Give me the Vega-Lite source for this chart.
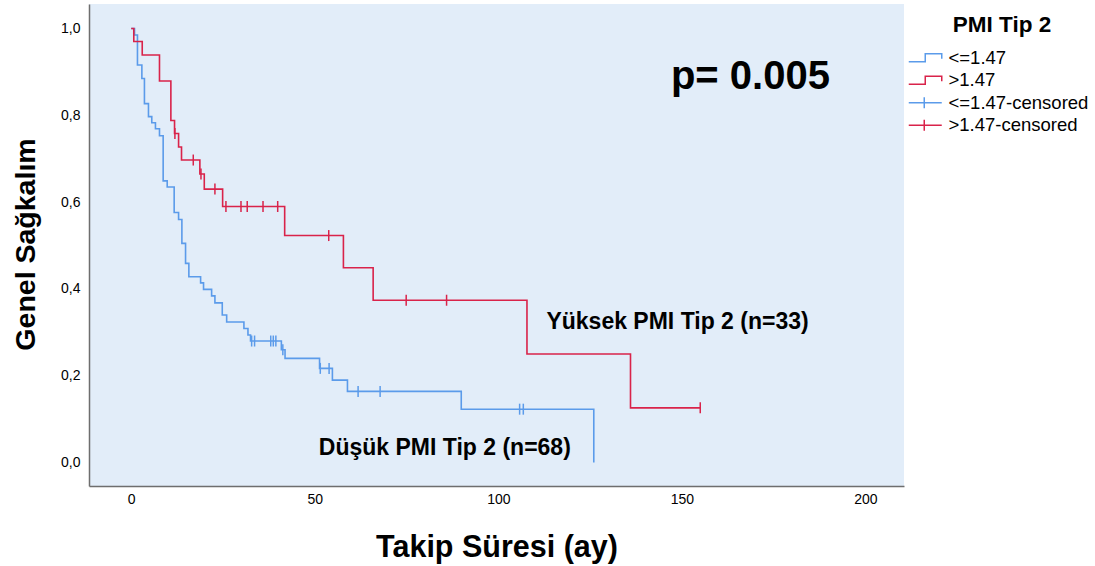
{
  "$schema": "https://vega.github.io/schema/vega-lite/v6.json",
  "width": 815,
  "height": 482,
  "autosize": {"type": "none"},
  "padding": {"left": 89, "top": 4, "right": 191, "bottom": 80},
  "background": "white",
  "config": {
    "view": {"stroke": null, "fill": "#e2edf9"},
    "font": "Liberation Sans"
  },
  "datasets": {
    "km": [
      {"g": "<=1.47", "t": 0, "s": 1.0},
      {"g": "<=1.47", "t": 0.9, "s": 0.985},
      {"g": "<=1.47", "t": 1.7, "s": 0.916},
      {"g": "<=1.47", "t": 2.9, "s": 0.885},
      {"g": "<=1.47", "t": 3.6, "s": 0.827},
      {"g": "<=1.47", "t": 4.7, "s": 0.797},
      {"g": "<=1.47", "t": 5.6, "s": 0.783},
      {"g": "<=1.47", "t": 6.6, "s": 0.769},
      {"g": "<=1.47", "t": 7.7, "s": 0.753},
      {"g": "<=1.47", "t": 8.7, "s": 0.649},
      {"g": "<=1.47", "t": 9.8, "s": 0.635},
      {"g": "<=1.47", "t": 11.7, "s": 0.576},
      {"g": "<=1.47", "t": 12.9, "s": 0.56},
      {"g": "<=1.47", "t": 13.8, "s": 0.505},
      {"g": "<=1.47", "t": 14.8, "s": 0.459},
      {"g": "<=1.47", "t": 15.7, "s": 0.428},
      {"g": "<=1.47", "t": 18.9, "s": 0.414},
      {"g": "<=1.47", "t": 19.7, "s": 0.399},
      {"g": "<=1.47", "t": 21.9, "s": 0.384},
      {"g": "<=1.47", "t": 22.8, "s": 0.368},
      {"g": "<=1.47", "t": 24.8, "s": 0.34},
      {"g": "<=1.47", "t": 26.0, "s": 0.324},
      {"g": "<=1.47", "t": 30.7, "s": 0.309},
      {"g": "<=1.47", "t": 31.8, "s": 0.294},
      {"g": "<=1.47", "t": 32.5, "s": 0.28},
      {"g": "<=1.47", "t": 40.9, "s": 0.26},
      {"g": "<=1.47", "t": 41.9, "s": 0.24},
      {"g": "<=1.47", "t": 51.3, "s": 0.217},
      {"g": "<=1.47", "t": 54.8, "s": 0.19},
      {"g": "<=1.47", "t": 58.9, "s": 0.164},
      {"g": "<=1.47", "t": 89.9, "s": 0.123},
      {"g": "<=1.47", "t": 126.0, "s": 0.0},
      {"g": ">1.47", "t": 0, "s": 1.0},
      {"g": ">1.47", "t": 0.7, "s": 0.97},
      {"g": ">1.47", "t": 3.0, "s": 0.939},
      {"g": ">1.47", "t": 7.7, "s": 0.879},
      {"g": ">1.47", "t": 10.8, "s": 0.788},
      {"g": ">1.47", "t": 11.8, "s": 0.758},
      {"g": ">1.47", "t": 12.9, "s": 0.727},
      {"g": ">1.47", "t": 13.7, "s": 0.697},
      {"g": ">1.47", "t": 18.7, "s": 0.665},
      {"g": ">1.47", "t": 19.9, "s": 0.63},
      {"g": ">1.47", "t": 24.9, "s": 0.59},
      {"g": ">1.47", "t": 41.8, "s": 0.523},
      {"g": ">1.47", "t": 57.8, "s": 0.449},
      {"g": ">1.47", "t": 65.9, "s": 0.374},
      {"g": ">1.47", "t": 107.8, "s": 0.25},
      {"g": ">1.47", "t": 136.0, "s": 0.126},
      {"g": ">1.47", "t": 155.0, "s": 0.126}
    ],
    "censor": [
      {"g": "<=1.47-censored", "t": 32.8, "s": 0.28},
      {"g": "<=1.47-censored", "t": 33.6, "s": 0.28},
      {"g": "<=1.47-censored", "t": 38.0, "s": 0.28},
      {"g": "<=1.47-censored", "t": 38.7, "s": 0.28},
      {"g": "<=1.47-censored", "t": 39.4, "s": 0.28},
      {"g": "<=1.47-censored", "t": 41.3, "s": 0.26},
      {"g": "<=1.47-censored", "t": 51.5, "s": 0.217},
      {"g": "<=1.47-censored", "t": 53.9, "s": 0.217},
      {"g": "<=1.47-censored", "t": 61.8, "s": 0.164},
      {"g": "<=1.47-censored", "t": 67.8, "s": 0.164},
      {"g": "<=1.47-censored", "t": 105.8, "s": 0.123},
      {"g": "<=1.47-censored", "t": 106.8, "s": 0.123},
      {"g": ">1.47-censored", "t": 11.9, "s": 0.758},
      {"g": ">1.47-censored", "t": 16.9, "s": 0.697},
      {"g": ">1.47-censored", "t": 19.0, "s": 0.665},
      {"g": ">1.47-censored", "t": 22.8, "s": 0.63},
      {"g": ">1.47-censored", "t": 25.8, "s": 0.59},
      {"g": ">1.47-censored", "t": 29.9, "s": 0.59},
      {"g": ">1.47-censored", "t": 31.6, "s": 0.59},
      {"g": ">1.47-censored", "t": 35.9, "s": 0.59},
      {"g": ">1.47-censored", "t": 39.9, "s": 0.59},
      {"g": ">1.47-censored", "t": 53.8, "s": 0.523},
      {"g": ">1.47-censored", "t": 74.9, "s": 0.374},
      {"g": ">1.47-censored", "t": 85.9, "s": 0.374},
      {"g": ">1.47-censored", "t": 155.0, "s": 0.126}
    ],
    "pval": [
      {"t": 147.0, "s": 0.888, "label": "p= 0.005"}
    ],
    "groups": [
      {"t": 113.1, "s": 0.324, "label": "Yüksek PMI Tip 2 (n=33)"},
      {"t": 51.1, "s": 0.033, "label": "Düşük PMI Tip 2 (n=68)"}
    ]
  },
  "encoding": {
    "x": {
      "field": "t",
      "type": "quantitative",
      "scale": {"domain": [-11.5, 210.5], "nice": false, "zero": false},
      "axis": {
        "values": [0, 50, 100, 150, 200],
        "ticks": false,
        "tickSize": 0,
        "grid": false,
        "domainColor": "#6e6e6e",
        "domainWidth": 1.5,
        "labelFontSize": 14,
        "labelColor": "#000000",
        "labelPadding": 6,
        "labelFlush": false,
        "title": "Takip Süresi (ay)",
        "titleFontSize": 30.5,
        "titleFontWeight": "bold",
        "titleColor": "#000000",
        "titleBaseline": "alphabetic",
        "titleY": 70
      }
    },
    "y": {
      "field": "s",
      "type": "quantitative",
      "scale": {"domain": [-0.054, 1.0565], "nice": false, "zero": false},
      "axis": {
        "values": [0, 0.2, 0.4, 0.6, 0.8, 1.0],
        "labelExpr": "replace(format(datum.value, '.1f'), '.', ',')",
        "ticks": false,
        "tickSize": 0,
        "grid": false,
        "domainColor": "#6e6e6e",
        "domainWidth": 1.5,
        "labelFontSize": 14,
        "labelColor": "#000000",
        "labelPadding": 9,
        "labelFlush": false,
        "title": "Genel Sağkalım",
        "titleFontSize": 28.5,
        "titleFontWeight": "bold",
        "titleColor": "#000000",
        "titleBaseline": "alphabetic",
        "titleAlign": "center",
        "titleX": -55,
        "titleY": 240
      }
    }
  },
  "layer": [
    {
      "data": {"name": "km"},
      "mark": {"type": "line", "interpolate": "step-after", "strokeWidth": 1.6},
      "encoding": {
        "color": {
          "field": "g",
          "type": "nominal",
          "scale": {
            "domain": ["<=1.47", ">1.47", "<=1.47-censored", ">1.47-censored"],
            "range": ["#5b9bea", "#d9234a", "#5b9bea", "#d9234a"]
          },
          "legend": {
            "orient": "none",
            "legendX": 827,
            "legendY": 10,
            "padding": 0,
            "title": "PMI Tip 2",
            "titleFontSize": 22.5,
            "titleFontWeight": "bold",
            "titleColor": "#000000",
            "titleAnchor": "middle",
            "titlePadding": 12,
            "labelFontSize": 18.5,
            "labelColor": "#000000",
            "labelOffset": 14,
            "rowPadding": 3.5,
            "symbolSize": 100,
            "symbolStrokeWidth": 1.5,
            "encode": {
              "symbols": {
                "update": {
                  "shape": {"signal": "indexof(datum.value, 'censored') >= 0 ? 'M-3.3,0H3.3M-0.2,-1.1V1.1' : 'M-3.3,0.8H0V-0.8H3.3V0.2'"},
                  "fill": {"value": "transparent"},
                  "strokeWidth": {"value": 1.5}
                }
              }
            }
          }
        }
      }
    },
    {
      "data": {"name": "censor"},
      "mark": {"type": "point", "shape": "M0,-1V1", "size": 121, "filled": false, "strokeWidth": 1.5, "opacity": 1},
      "encoding": {
        "color": {"field": "g", "type": "nominal", "legend": null}
      }
    },
    {
      "data": {"name": "pval"},
      "mark": {"type": "text", "align": "left", "baseline": "middle", "fontSize": 40, "fontWeight": "bold", "color": "#000000"},
      "encoding": {"text": {"field": "label"}}
    },
    {
      "data": {"name": "groups"},
      "mark": {"type": "text", "align": "left", "baseline": "middle", "fontSize": 23, "fontWeight": "bold", "color": "#000000"},
      "encoding": {"text": {"field": "label"}}
    }
  ]
}
